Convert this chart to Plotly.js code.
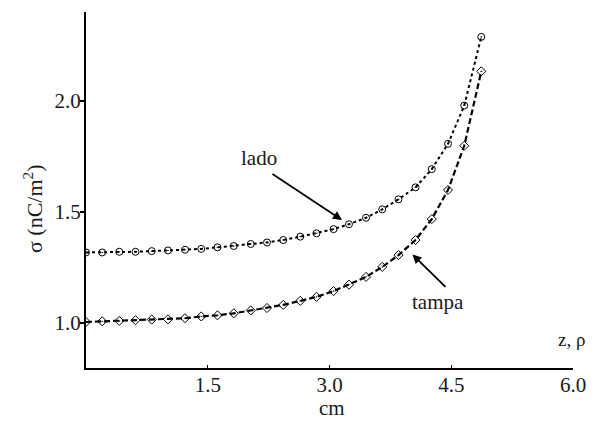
<!DOCTYPE html>
<html>
<head>
<meta charset="utf-8">
<script src="https://cdn.plot.ly/plotly-3.0.1.min.js"></script>
<style>
  html, body { margin: 0; padding: 0; background: #fff; }
  #chart { width: 609px; height: 421px; }
</style>
</head>
<body>
<div id="chart"></div>
<script>
// Positions along z / rho (cm) of the computed points
var xVals = [0, 0.20, 0.41, 0.61, 0.81, 1.01, 1.22, 1.42, 1.62, 1.82, 2.03, 2.23, 2.43,
             2.64, 2.84, 3.05, 3.24, 3.45, 3.65, 3.85, 4.06, 4.26, 4.46, 4.66, 4.87];
// sigma on the side ("lado")
var ladoVals = [1.318, 1.318, 1.321, 1.321, 1.324, 1.327, 1.330, 1.334, 1.341, 1.347, 1.356,
                1.363, 1.374, 1.389, 1.404, 1.423, 1.445, 1.474, 1.512, 1.557, 1.611, 1.693,
                1.807, 1.979, 2.288];
// sigma on the lid ("tampa")
var tampaVals = [1.005, 1.008, 1.010, 1.013, 1.016, 1.017, 1.022, 1.030, 1.035, 1.044, 1.057,
                 1.068, 1.082, 1.100, 1.118, 1.144, 1.173, 1.208, 1.253, 1.306, 1.374, 1.468,
                 1.599, 1.798, 2.133];
var xTickVals = [1.5, 3.0, 4.5, 6.0];
var xTickText = ['1.5', '3.0', '4.5', '6.0'];
var yTickVals = [1.0, 1.5, 2.0];
var yTickText = ['1.0', '1.5', '2.0'];

var serif = '"Liberation Serif", "Times New Roman", serif';
var ink = '#1a1a1a';

var traces = [
  {
    x: xVals, y: ladoVals, name: 'lado', type: 'scatter', mode: 'lines+markers',
    line: { color: '#000', width: 2, dash: 'dot' },
    marker: { symbol: 'circle-open-dot', size: 7, color: '#000', line: { color: '#000', width: 1 } }
  },
  {
    x: xVals, y: tampaVals, name: 'tampa', type: 'scatter', mode: 'lines+markers',
    line: { color: '#000', width: 2.2, dash: '6px,3px' },
    marker: { symbol: 'diamond-open-dot', size: 7, color: '#000', line: { color: '#000', width: 1 } }
  }
];

var layout = {
  width: 609, height: 421,
  margin: { l: 86, r: 36, t: 12, b: 53 },
  paper_bgcolor: '#fff', plot_bgcolor: '#fff',
  showlegend: false,
  font: { family: serif, size: 21, color: ink },
  xaxis: {
    range: [0, 6.0], showgrid: false, zeroline: false,
    showline: true, linecolor: '#000', linewidth: 2,
    tickmode: 'array', tickvals: xTickVals, ticktext: xTickText,
    ticks: 'inside', ticklen: 3, tickwidth: 1, tickcolor: '#000',
    ticklabelstandoff: -3,
    tickfont: { family: serif, size: 21, color: ink }
  },
  yaxis: {
    range: [0.798, 2.40], showgrid: false, zeroline: false,
    showline: true, linecolor: '#000', linewidth: 2,
    tickmode: 'array', tickvals: yTickVals, ticktext: yTickText,
    ticks: 'outside', ticklen: 4, tickwidth: 1.5, tickcolor: '#000',
    ticklabelstandoff: -5,
    tickfont: { family: serif, size: 21, color: ink }
  },
  annotations: [
    { xref: 'paper', yref: 'paper', x: -0.1088, y: 0.4466, text: 'σ (nC/m<sup>2</sup>)',
      textangle: -90, showarrow: false,
      font: { family: serif, size: 22, color: ink }, xanchor: 'center', yanchor: 'middle' },
    { xref: 'paper', yref: 'paper', x: 0.5051, y: -0.113, text: 'cm', showarrow: false,
      font: { family: serif, size: 21, color: ink }, xanchor: 'center', yanchor: 'middle' },
    { xref: 'paper', yref: 'paper', x: 0.3552, y: 0.5899, text: 'lado', showarrow: false,
      font: { family: serif, size: 21, color: ink }, xanchor: 'center', yanchor: 'middle' },
    { xref: 'paper', yref: 'paper', x: 0.7228, y: 0.1854, text: 'tampa', showarrow: false,
      font: { family: serif, size: 21, color: ink }, xanchor: 'center', yanchor: 'middle' },
    { xref: 'paper', yref: 'paper', x: 0.9959, y: 0.0787, text: 'z, ρ', showarrow: false,
      font: { family: serif, size: 19, color: ink }, xanchor: 'center', yanchor: 'middle' },
    { xref: 'x', yref: 'y', x: 3.154, y: 1.464, axref: 'x', ayref: 'y', ax: 2.279, ay: 1.676,
      text: '', showarrow: true, arrowhead: 2, arrowsize: 1, arrowwidth: 1.8, arrowcolor: '#000',
      standoff: 0, startstandoff: 0 },
    { xref: 'x', yref: 'y', x: 4.022, y: 1.309, axref: 'x', ayref: 'y', ax: 4.447, ay: 1.156,
      text: '', showarrow: true, arrowhead: 2, arrowsize: 1, arrowwidth: 1.8, arrowcolor: '#000',
      standoff: 0, startstandoff: 0 }
  ]
};

Plotly.newPlot('chart', traces, layout, { displayModeBar: false, staticPlot: true });
</script>
</body>
</html>
